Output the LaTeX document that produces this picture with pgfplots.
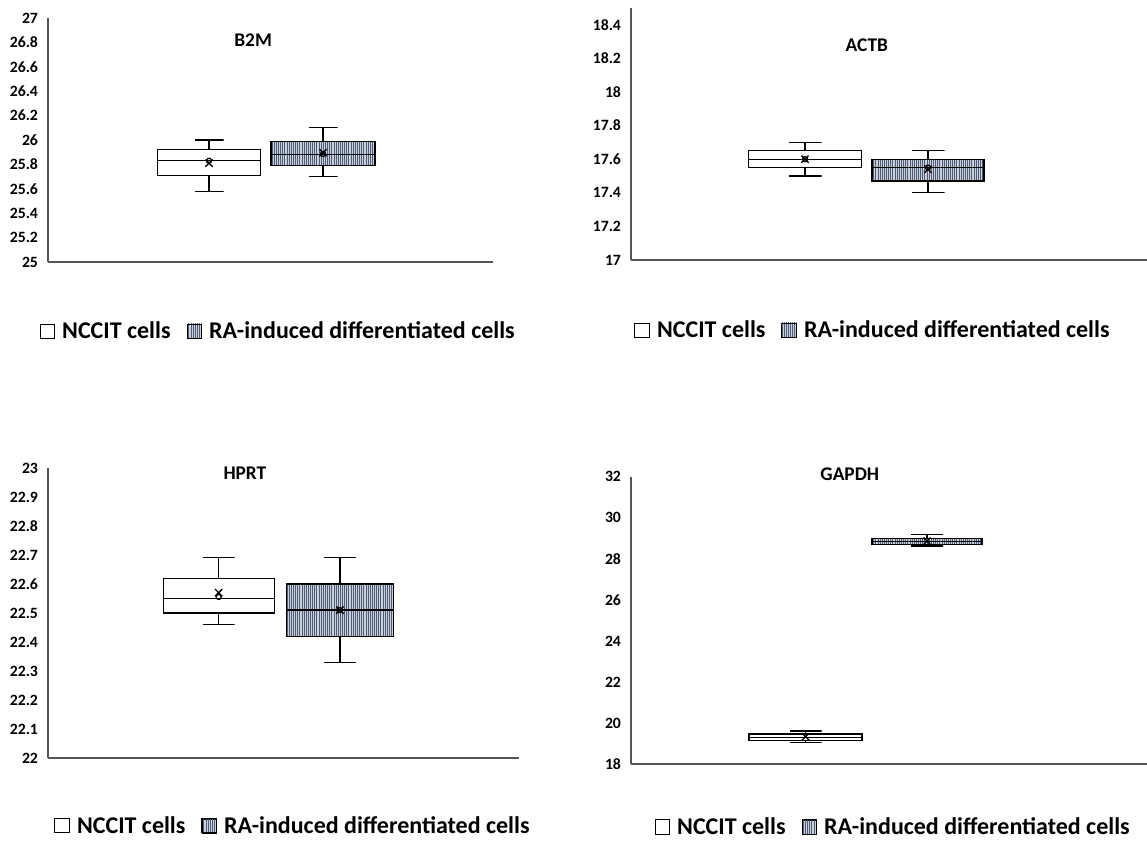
\documentclass[border=0pt]{standalone}
\usepackage{fontspec}
\setmainfont{Carlito}
\usepackage{pgfplots}
\pgfplotsset{compat=1.18}
\usetikzlibrary{patterns}
\pgfdeclarepatternformonly{vlinesra}{\pgfpoint{-0.1pt}{-0.1pt}}{\pgfpoint{1.7pt}{1.7pt}}{\pgfpoint{1.6pt}{1.6pt}}{%
  \pgfsetlinewidth{0.5pt}%
  \pgfpathmoveto{\pgfpoint{0.8pt}{-0.1pt}}%
  \pgfpathlineto{\pgfpoint{0.8pt}{1.7pt}}%
  \pgfusepath{stroke}}
\definecolor{rafill}{HTML}{C8D0DE}
\definecolor{ralines}{HTML}{505C72}
\definecolor{axgrey}{HTML}{555555}
\pgfplotsset{
  panel/.style={
    scale only axis,
    axis x line=bottom, axis y line=left,
    axis line style={-, axgrey, line width=0.8pt},
    xtick=\empty,
    major tick length=0pt,
    tick label style={font=\fontsize{11.8}{13}\selectfont\bfseries},
    yticklabel style={xshift=-4pt},
    /pgf/number format/assume math mode=true,
    title style={font=\fontsize{14.5}{16}\selectfont\bfseries, anchor=center},
    clip=false,
    legend columns=2,
    legend cell align=left,
    legend style={draw=none, fill=none, anchor=east, inner sep=0pt,
      font=\fontsize{18}{20}\selectfont\bfseries,
      nodes={inner xsep=0pt, inner ysep=1pt},
      /tikz/every odd column/.append style={column sep=5.25pt},
      /tikz/every even column/.append style={column sep=12pt}},
  },
  ncbox/.style={black, line width=0.9pt, fill=white, forget plot, mark=none},
  rabox/.style={black, line width=0.9pt, preaction={fill=rafill}, pattern=vlinesra, pattern color=ralines, forget plot, mark=none},
  seg/.style={black, line width=0.9pt, forget plot, mark=none},
  meanx/.style={only marks, black, mark=x, mark size=3.8pt, line width=1pt, forget plot},
  ptc/.style={only marks, black, mark=o, mark size=1.9pt, line width=0.9pt, mark options={fill=white}, forget plot},
  nclegend/.style={legend image code/.code={\draw[black, line width=0.7pt, fill=white] (0pt,-5.3pt) rectangle (11pt,5.3pt);}},
  ralegend/.style={legend image code/.code={\draw[black, line width=0.7pt, preaction={fill=rafill}, pattern=vlinesra, pattern color=ralines] (0pt,-5.3pt) rectangle (11pt,5.3pt);}},
}
\begin{document}
\begin{tikzpicture}
\useasboundingbox (0,0) rectangle (860.25pt,630.75pt);
% ---------------- B2M ----------------
\begin{axis}[panel, at={(36pt,434.25pt)}, anchor=south west,
  width=333.75pt, height=183pt,
  xmin=0, xmax=445, ymin=25, ymax=27,
  ytick={25,25.2,25.4,25.6,25.8,26,26.2,26.4,26.6,26.8,27},
  title={B2M}, title style={at={(0.461,0.877)}},
  legend style={at={(1.0494,-0.283)}}]
% NCCIT: lw 25.58, lq 25.71, med 25.83, uq 25.92, uw 26.00
\addplot[seg] coordinates {(146.5,26.00) (175.5,26.00) (161,26.00) (161,25.92)};
\addplot[seg] coordinates {(146.5,25.58) (175.5,25.58) (161,25.58) (161,25.71)};
\addplot[ncbox] coordinates {(109.5,25.71) (212.5,25.71) (212.5,25.92) (109.5,25.92)} --cycle;
\addplot[seg] coordinates {(109.5,25.83) (212.5,25.83)};
% RA: lw 25.70, lq 25.79, med 25.88, uq 25.99, uw 26.10
\addplot[seg] coordinates {(260.5,26.10) (289.5,26.10) (275,26.10) (275,25.99)};
\addplot[seg] coordinates {(260.5,25.70) (289.5,25.70) (275,25.70) (275,25.79)};
\addplot[rabox] coordinates {(223,25.79) (327,25.79) (327,25.99) (223,25.99)} --cycle;
\addplot[seg] coordinates {(223,25.88) (327,25.88)};
\addplot[meanx] coordinates {(161,25.81) (275,25.895)};
\addplot[ptc] coordinates {(161,25.83) (275,25.885)};
\addlegendimage{nclegend}\addlegendentry{NCCIT cells}
\addlegendimage{ralegend}\addlegendentry{RA-induced differentiated cells}
\end{axis}
% ---------------- ACTB ----------------
\begin{axis}[panel, at={(473.25pt,435.75pt)}, anchor=south west,
  width=387pt, height=189pt,
  xmin=0, xmax=516, ymin=17, ymax=18.5,
  ytick={17,17.2,17.4,17.6,17.8,18,18.2,18.4},
  title={ACTB}, title style={at={(0.457,0.821)}},
  legend style={at={(0.928,-0.278)}}]
% NCCIT: 17.50 17.55 17.60 17.65 17.70
\addplot[seg] coordinates {(157.5,17.70) (190.5,17.70) (174,17.70) (174,17.65)};
\addplot[seg] coordinates {(157.5,17.50) (190.5,17.50) (174,17.50) (174,17.55)};
\addplot[ncbox] coordinates {(117.5,17.55) (230.5,17.55) (230.5,17.65) (117.5,17.65)} --cycle;
\addplot[seg] coordinates {(117.5,17.60) (230.5,17.60)};
% RA: 17.40 17.47 17.55 17.60 17.65
\addplot[seg] coordinates {(280.5,17.65) (313.5,17.65) (297,17.65) (297,17.60)};
\addplot[seg] coordinates {(280.5,17.40) (313.5,17.40) (297,17.40) (297,17.47)};
\addplot[rabox] coordinates {(241,17.47) (353,17.47) (353,17.60) (241,17.60)} --cycle;
\addplot[seg] coordinates {(241,17.55) (353,17.55)};
\addplot[meanx] coordinates {(174,17.60) (297,17.54)};
\addplot[ptc] coordinates {(174,17.60) (297,17.55)};
\addlegendimage{nclegend}\addlegendentry{NCCIT cells}
\addlegendimage{ralegend}\addlegendentry{RA-induced differentiated cells}
\end{axis}
% ---------------- HPRT ----------------
\begin{axis}[panel, at={(36pt,62.25pt)}, anchor=south west,
  width=353.25pt, height=217.5pt,
  xmin=0, xmax=471, ymin=22, ymax=23,
  ytick={22,22.1,22.2,22.3,22.4,22.5,22.6,22.7,22.8,22.9,23},
  title={HPRT}, title style={at={(0.418,0.955)}},
  legend style={at={(1.023,-0.234)}}]
% NCCIT: 22.46 22.50 22.55 22.62 22.69
\addplot[seg] coordinates {(154.7,22.69) (186.7,22.69) (170.7,22.69) (170.7,22.62)};
\addplot[seg] coordinates {(154.7,22.46) (186.7,22.46) (170.7,22.46) (170.7,22.50)};
\addplot[ncbox] coordinates {(115.2,22.50) (226.2,22.50) (226.2,22.62) (115.2,22.62)} --cycle;
\addplot[seg] coordinates {(115.2,22.55) (226.2,22.55)};
% RA: 22.33 22.42 22.51 22.60 22.69
\addplot[seg] coordinates {(276,22.69) (308,22.69) (292,22.69) (292,22.60)};
\addplot[seg] coordinates {(276,22.33) (308,22.33) (292,22.33) (292,22.42)};
\addplot[rabox] coordinates {(238.5,22.42) (345.5,22.42) (345.5,22.60) (238.5,22.60)} --cycle;
\addplot[seg] coordinates {(238.5,22.51) (345.5,22.51)};
\addplot[meanx] coordinates {(170.7,22.57) (292,22.51)};
\addplot[ptc] coordinates {(170.7,22.555) (292,22.51)};
\addlegendimage{nclegend}\addlegendentry{NCCIT cells}
\addlegendimage{ralegend}\addlegendentry{RA-induced differentiated cells}
\end{axis}
% ---------------- GAPDH ----------------
\begin{axis}[panel, at={(473.25pt,57.75pt)}, anchor=south west,
  width=387pt, height=215.5pt,
  xmin=0, xmax=516, ymin=18, ymax=32,
  ytick={18,20,22,24,26,28,30,32},
  title={GAPDH}, title style={at={(0.424,0.981)}},
  legend style={at={(0.967,-0.219)}}]
% NCCIT: 19.04 19.15 19.31 19.46 19.61
\addplot[seg] coordinates {(158.5,19.61) (190.5,19.61) (174.5,19.61) (174.5,19.46)};
\addplot[seg] coordinates {(158.5,19.04) (190.5,19.04) (174.5,19.04) (174.5,19.15)};
\addplot[ncbox] coordinates {(118,19.15) (231,19.15) (231,19.46) (118,19.46)} --cycle;
\addplot[seg] coordinates {(118,19.31) (231,19.31)};
% RA: 28.62 28.70 28.84 28.97 29.19
\addplot[seg] coordinates {(280,29.19) (312,29.19) (296,29.19) (296,28.97)};
\addplot[seg] coordinates {(280,28.62) (312,28.62) (296,28.62) (296,28.70)};
\addplot[rabox] coordinates {(241,28.70) (351,28.70) (351,28.97) (241,28.97)} --cycle;
\addplot[seg] coordinates {(241,28.84) (351,28.84)};
\addplot[meanx] coordinates {(174.5,19.33) (296,28.86)};
\addlegendimage{nclegend}\addlegendentry{NCCIT cells}
\addlegendimage{ralegend}\addlegendentry{RA-induced differentiated cells}
\end{axis}
\end{tikzpicture}
\end{document}
